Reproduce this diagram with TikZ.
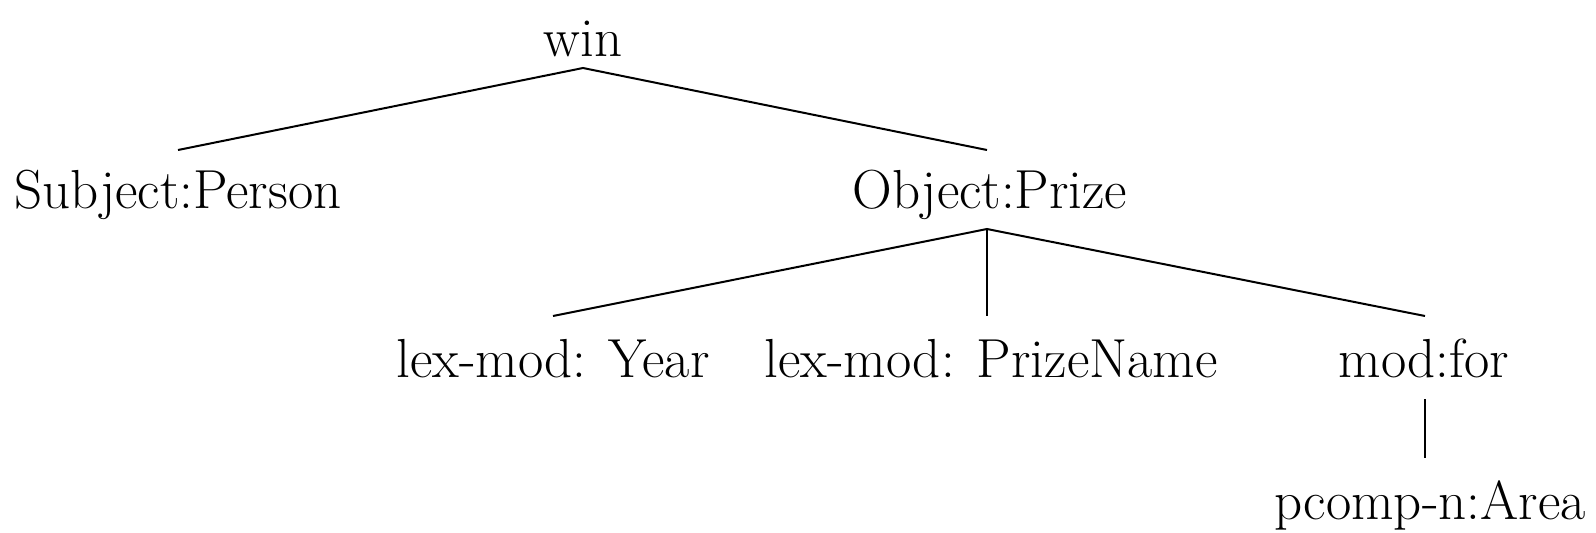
\documentclass[tikz,border=0pt]{standalone}
\usepackage{fontspec}
\begin{document}
\begin{tikzpicture}[x=0.5pt,y=-0.5pt,
  lbl/.style={anchor=base,inner sep=0pt,font=\fontsize{27.5}{33}\selectfont},
  edge/.style={line width=1pt,black}]
\useasboundingbox (0,0) rectangle (1596,532);
\node[lbl] (win) at (583,56) {win};
\node[lbl] (subj) at (178,208) {Subject:Person};
\node[lbl] (obj) at (990,208) {Object:Prize};
\node[lbl] (year) at (553,377) {lex-mod: Year};
\node[lbl] (pname) at (991,377) {lex-mod: PrizeName};
\node[lbl] (modfor) at (1424,377) {mod:for};
\node[lbl] (area) at (1430,519) {pcomp-n:Area};
\draw[edge] ([yshift=29pt]subj.base) -- ([yshift=-6pt]win.base) -- ([xshift=-1.5pt,yshift=29pt]obj.base);
\draw[edge] ([yshift=30.5pt]year.base) -- ([xshift=-1.5pt,yshift=-10.5pt]obj.base) -- ([xshift=0.5pt,yshift=30.5pt]modfor.base);
\draw[edge,line width=0.6pt] ([xshift=-1.5pt,yshift=-10.5pt]obj.base) -- ([xshift=-2pt,yshift=30.5pt]pname.base);
\draw[edge,line width=0.6pt] ([xshift=0.5pt,yshift=-11pt]modfor.base) -- ([xshift=-2.5pt,yshift=30.5pt]area.base);
\end{tikzpicture}
\end{document}
